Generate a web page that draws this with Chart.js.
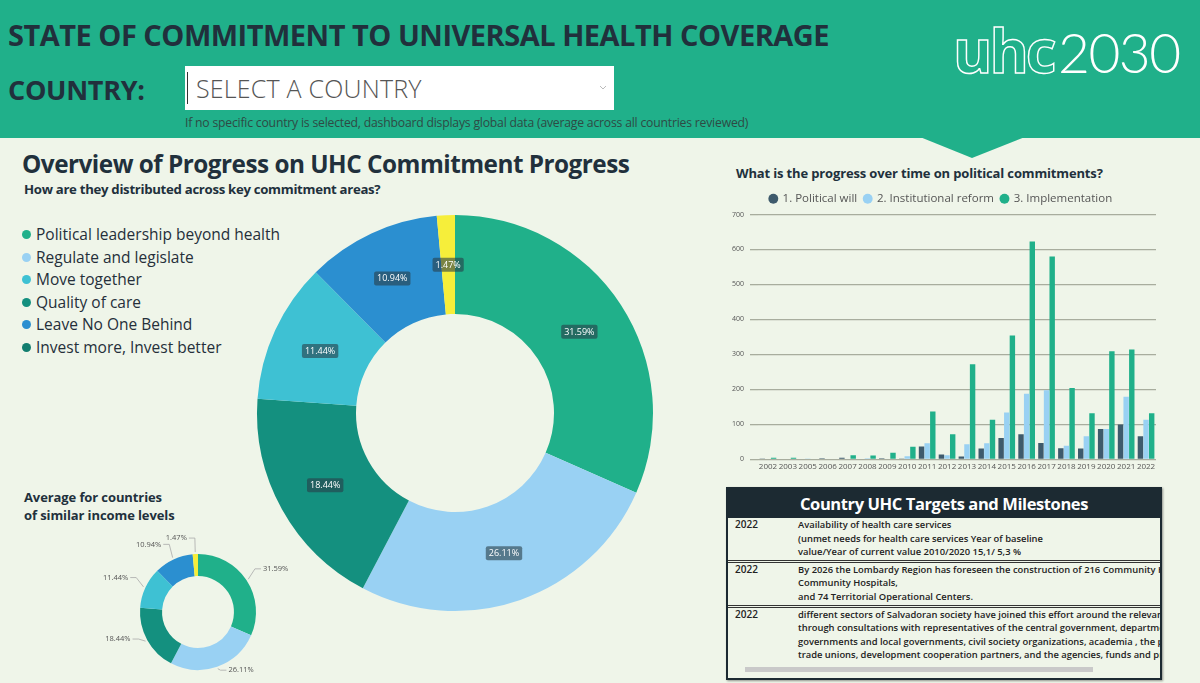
<!DOCTYPE html>
<html>
<head>
<meta charset="utf-8">
<script src="https://cdn.jsdelivr.net/npm/chart.js@4.4.0/dist/chart.umd.min.js"></script>
<style>
  body { margin: 0; width: 1200px; height: 683px; overflow: hidden; position: relative;
         background: #EFF5E9; font-family: "Open Sans", sans-serif; color: #21303C; }
  .abs { position: absolute; }
  #header { left: 0; top: 0; width: 1200px; height: 138px; background: #20B08A; }
  #title { left: 8px; top: 15px; font-size: 29px; font-weight: 700; white-space: nowrap; letter-spacing: -0.5px; }
  #country { left: 8px; top: 71px; font-size: 27px; font-weight: 700; letter-spacing: -0.3px; }
  #select { left: 185px; top: 66px; width: 429px; height: 44px; background: #fff; }
  #select span { position: absolute; left: 11px; top: 5px; font-size: 25px; color: #555; font-weight: 300; letter-spacing: 0.2px; }
  #select i { position: absolute; left: 2px; top: 6px; width: 1px; height: 32px; background: #333; }
  #caption { left: 185px; top: 114px; font-size: 12.2px; color: #2E4A44; letter-spacing: -0.2px; white-space: nowrap; }
  #h2 { left: 22px; top: 147px; font-size: 24.3px; font-weight: 700; letter-spacing: -0.5px; white-space: nowrap; }
  #sub { left: 24px; top: 180px; font-size: 13.2px; font-weight: 700; letter-spacing: -0.3px; }
  #legend { left: 22px; top: 223px; font-size: 15.5px; color: #252F3A; }
  #legend div { height: 22.5px; white-space: nowrap; }
  #legend b { display: inline-block; width: 9px; height: 9px; border-radius: 50%; margin-right: 5px; vertical-align: 1px; }
  #avg { left: 24px; top: 488px; font-size: 13px; font-weight: 700; line-height: 18px; letter-spacing: -0.1px; }
  #barTitle { left: 736px; top: 164px; font-size: 13px; font-weight: 700; letter-spacing: -0.15px; white-space: nowrap; }
  #table { left: 726px; top: 487px; width: 432px; height: 189px; border: 2px solid #1C2A32; overflow: hidden;
           box-shadow: 1px 1px 2px rgba(0,0,0,0.4); background: #EFF5E9; }
  #table .hd { height: 29px; background: #1C2A32; color: #fff; font-size: 16.5px; font-weight: 700; text-align: center; line-height: 29px; letter-spacing: -0.4px; }
  #table .row { position: relative; font-size: 9.4px; font-weight: 600; color: #222; line-height: 13.6px; white-space: nowrap; padding: 0 0 1px 0; border-bottom: 3px double #333; }
  #table .yr { position: absolute; left: 7px; top: 0; font-size: 10px; }
  #table .tx { margin-left: 70px; }
  #table .sb { position: absolute; left: 0; bottom: 3px; width: 432px; height: 11px; background: #EFF5E9; }
  #table .sb i { position: absolute; left: 17px; top: 3px; width: 348px; height: 5px; background: #c9c9c9; }
</style>
</head>
<body>
<div id="header" class="abs"></div>
<svg class="abs" style="left:0;top:0" width="1200" height="170">
  <polygon points="920,137 1025,137 972,158" fill="#20B08A"/>
  <g fill="none" stroke="#fff" stroke-width="1.4">
    <text x="953" y="73" font-family="Open Sans" font-weight="700" font-size="60" letter-spacing="-3">uhc</text>
  </g>
  <text x="1058" y="73" fill="#fff" font-family="Lato" font-weight="300" font-size="55" letter-spacing="-1.5">2030</text>
</svg>
<div id="title" class="abs">STATE OF COMMITMENT TO UNIVERSAL HEALTH COVERAGE</div>
<div id="country" class="abs">COUNTRY:</div>
<div id="select" class="abs"><i></i><span>SELECT A COUNTRY</span>
  <svg style="position:absolute;left:414px;top:19px" width="8" height="6"><polyline points="1,1 4,4 7,1" fill="none" stroke="#aaa" stroke-width="0.8"/></svg>
</div>
<div id="caption" class="abs">If no specific country is selected, dashboard displays global data (average across all countries reviewed)</div>

<div id="h2" class="abs">Overview of Progress on UHC Commitment Progress</div>
<div id="sub" class="abs">How are they distributed across key commitment areas?</div>
<div id="legend" class="abs"></div>
<div id="avg" class="abs">Average for countries<br>of similar income levels</div>

<div class="abs" style="left:250px;top:208px;width:410px;height:410px"><canvas id="donut"></canvas></div>
<div class="abs" style="left:90px;top:526px;width:216px;height:157px"><canvas id="small"></canvas></div>

<div id="barTitle" class="abs">What is the progress over time on political commitments?</div>
<div class="abs" style="left:726px;top:186px;width:434px;height:289px"><canvas id="bars"></canvas></div>

<div id="table" class="abs">
  <div class="hd">Country UHC Targets and Milestones</div>
  <div class="row"><span class="yr">2022</span><div class="tx">Availability of health care services<br>(unmet needs for health care services Year of baseline<br>value/Year of current value 2010/2020 15,1/ 5,3 %</div></div>
  <div class="row"><span class="yr">2022</span><div class="tx">By 2026 the Lombardy Region has foreseen the construction of 216 Community Houses,<br>Community Hospitals,<br>and 74 Territorial Operational Centers.</div></div>
  <div class="row" style="border:none"><span class="yr">2022</span><div class="tx">different sectors of Salvadoran society have joined this effort around the relevance of<br>through consultations with representatives of the central government, departmental<br>governments and local governments, civil society organizations, academia , the private sector,<br>trade unions, development cooperation partners, and the agencies, funds and programmes of the<br>United Nations.</div></div>
  <div class="sb"><i></i></div>
</div>

<script>
// Kategorier och andelar (%) för ringdiagrammen
const areas = ["Political leadership beyond health", "Regulate and legislate", "Quality of care",
               "Move together", "Leave No One Behind", "Invest more, Invest better"];
const areaShares = [31.59, 26.11, 18.44, 11.44, 10.94, 1.47];
const areaColors = ["#20B08A", "#99D1F3", "#14907F", "#3EC1D3", "#2B8FD0", "#F6EE3A"];

// Förklaringen till vänster
const legendLabels = ["Political leadership beyond health", "Regulate and legislate", "Move together",
                      "Quality of care", "Leave No One Behind", "Invest more, Invest better"];
const legendColors = ["#20B08A", "#99D1F3", "#3EC1D3", "#14907F", "#2B8FD0", "#127E6F"];

// Stapeldiagram: år och antal per kategori
const years = ["2002", "2003", "2005", "2006", "2007", "2008", "2009", "2010", "2011", "2012",
               "2013", "2014", "2015", "2016", "2017", "2018", "2019", "2020", "2021", "2022"];
const politicalWill = [1, 0, 0, 3, 5, 0, 3, 1, 37, 14, 8, 31, 61, 72, 47, 32, 31, 87, 100, 66];
const institutionalReform = [0, 0, 1, 2, 2, 3, 0, 9, 46, 12, 43, 46, 134, 188, 198, 39, 66, 87, 179, 113];
const implementation = [5, 5, 2, 2, 12, 11, 19, 36, 137, 72, 272, 113, 354, 623, 580, 204, 132, 309, 314, 132];
const seriesNames = ["1. Political will", "2. Institutional reform", "3. Implementation"];
const seriesColors = ["#3E5A6C", "#99D1F3", "#20B08A"];

const legendBox = document.getElementById("legend");
legendLabels.forEach((name, i) => {
    const row = document.createElement("div");
    row.innerHTML = '<b style="background:' + legendColors[i] + '"></b>' + name;
    legendBox.appendChild(row);
});

const pct = v => v.toFixed(2) + "%";

// Etiketter inne i ringen (mörka rutor)
const innerLabels = {
    id: "innerLabels",
    afterDatasetsDraw(chart) {
        const ctx = chart.ctx;
        const meta = chart.getDatasetMeta(0);
        ctx.save();
        ctx.font = "9px 'Open Sans'";
        ctx.textAlign = "center";
        ctx.textBaseline = "middle";
        meta.data.forEach((arc, i) => {
            const a = (arc.startAngle + arc.endAngle) / 2;
            const r = (arc.innerRadius + arc.outerRadius) / 2;
            const x = arc.x + Math.cos(a) * r;
            const y = arc.y + Math.sin(a) * r;
            const t = pct(areaShares[i]);
            const w = ctx.measureText(t).width + 6;
            ctx.fillStyle = "rgba(40,62,72,0.6)";
            ctx.beginPath();
            ctx.roundRect(x - w / 2, y - 7, w, 14, 2);
            ctx.fill();
            ctx.fillStyle = "#fff";
            ctx.fillText(t, x, y + 0.5);
        });
        ctx.restore();
    }
};

// Etiketter utanför den lilla ringen, med linjer
const outerLabels = {
    id: "outerLabels",
    afterDatasetsDraw(chart) {
        const ctx = chart.ctx;
        const meta = chart.getDatasetMeta(0);
        ctx.save();
        ctx.font = "7.5px 'Open Sans'";
        ctx.textBaseline = "middle";
        ctx.strokeStyle = "#aaa";
        ctx.lineWidth = 0.8;
        meta.data.forEach((arc, i) => {
            const a = (arc.startAngle + arc.endAngle) / 2;
            const r0 = arc.outerRadius + 2, r1 = arc.outerRadius + 10;
            const x0 = arc.x + Math.cos(a) * r0, y0 = arc.y + Math.sin(a) * r0;
            const x1 = arc.x + Math.cos(a) * r1, y1 = arc.y + Math.sin(a) * r1 - 6;
            const right = Math.cos(a) >= 0;
            const x2 = x1 + (right ? 6 : -6);
            ctx.beginPath();
            ctx.moveTo(x0, y0); ctx.lineTo(x1, y1); ctx.lineTo(x2, y1);
            ctx.stroke();
            ctx.fillStyle = "#555";
            ctx.textAlign = right ? "left" : "right";
            ctx.fillText(pct(areaShares[i]), x2 + (right ? 2 : -2), y1);
        });
        ctx.restore();
    }
};

new Chart(document.getElementById("donut"), {
    type: "doughnut",
    data: {
        labels: areas,
        datasets: [{ data: areaShares, backgroundColor: areaColors, borderWidth: 0 }]
    },
    options: {
        responsive: true, maintainAspectRatio: false, animation: false,
        cutout: "50%",
        layout: { padding: 7 },
        plugins: { legend: { display: false }, tooltip: { enabled: false } }
    },
    plugins: [innerLabels]
});

new Chart(document.getElementById("small"), {
    type: "doughnut",
    data: {
        labels: areas,
        datasets: [{ data: areaShares, backgroundColor: areaColors, borderWidth: 0 }]
    },
    options: {
        responsive: true, maintainAspectRatio: false, animation: false,
        cutout: "62%",
        layout: { padding: { left: 50, right: 50, top: 28, bottom: 13 } },
        plugins: { legend: { display: false }, tooltip: { enabled: false } }
    },
    plugins: [outerLabels]
});

const seriesData = [politicalWill, institutionalReform, implementation];

new Chart(document.getElementById("bars"), {
    type: "bar",
    data: {
        labels: years,
        datasets: seriesData.map((d, i) => ({
            label: seriesNames[i],
            data: d,
            backgroundColor: seriesColors[i],
            borderWidth: 0,
            categoryPercentage: 0.85,
            barPercentage: 0.96
        }))
    },
    options: {
        responsive: true, maintainAspectRatio: false, animation: false,
        layout: { padding: { right: 4 } },
        plugins: {
            tooltip: { enabled: false },
            legend: {
                labels: {
                    usePointStyle: true, pointStyle: "circle", boxWidth: 7, boxHeight: 7,
                    color: "#555", font: { family: "Open Sans", size: 11.5 }, padding: 7
                }
            }
        },
        scales: {
            x: {
                grid: { display: false, drawTicks: false },
                border: { display: false },
                ticks: { color: "#555", font: { family: "Open Sans", size: 8 }, maxRotation: 0, autoSkip: false, padding: 3 }
            },
            y: {
                min: 0, max: 700,
                ticks: { stepSize: 100, color: "#555", font: { family: "Open Sans", size: 7 }, padding: 6 },
                grid: { color: "#A8AD9E", lineWidth: 1.3 },
                border: { display: false }
            }
        }
    }
});
</script>
</body>
</html>
